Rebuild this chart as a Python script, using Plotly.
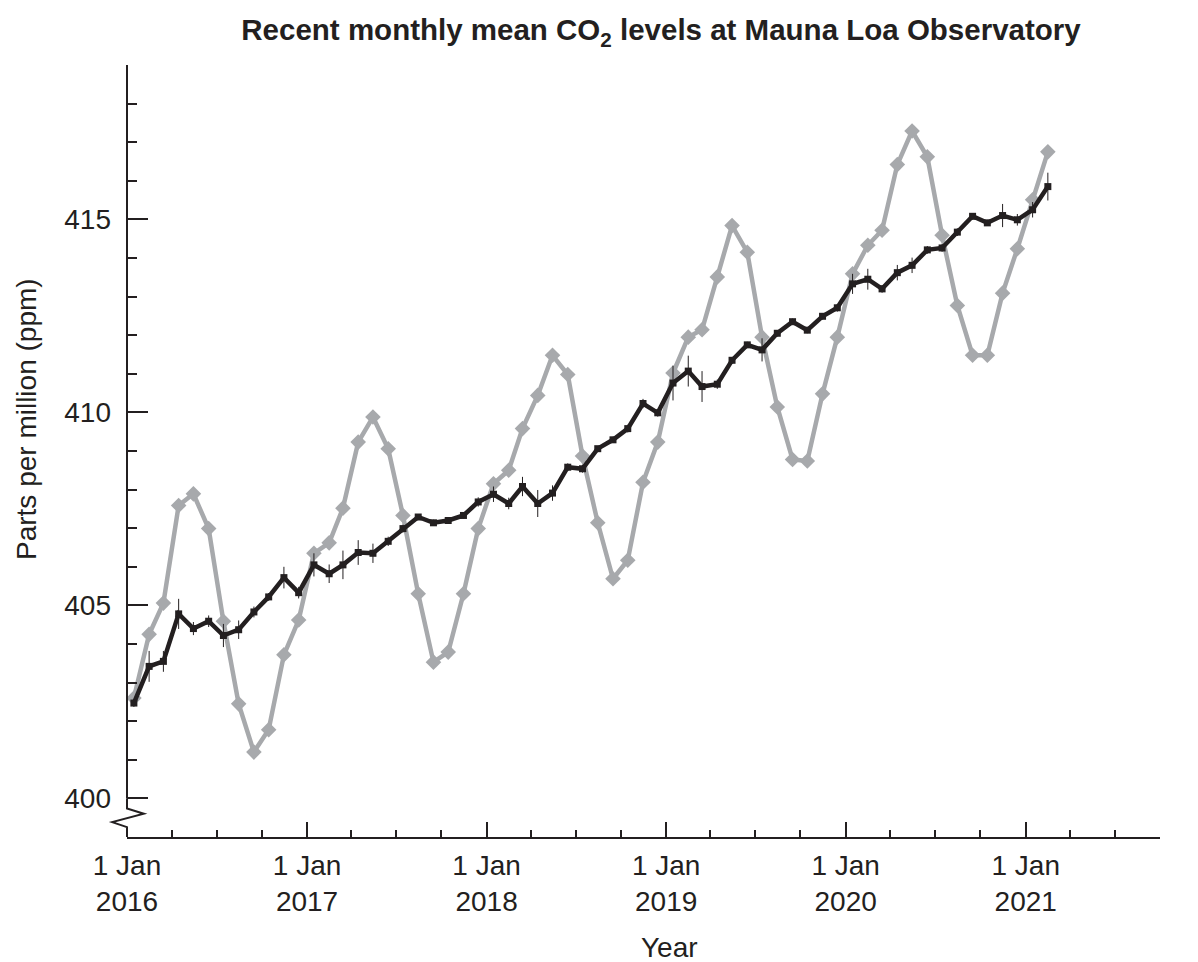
import plotly.graph_objects as go

# ---- data (monthly, Jan 2016 .. Feb 2021) ----
start_year = 2016
n_months = 62
months = [f"{start_year + m // 12}-{m % 12 + 1:02d}-15" for m in range(n_months)]

monthly_mean = [
    402.60, 404.25, 405.06, 407.59, 407.89, 406.99, 404.59, 402.45, 401.20, 401.78, 403.72, 404.62,
    406.35, 406.62, 407.52, 409.23, 409.88, 409.06, 407.33, 405.30, 403.53, 403.79, 405.30, 406.99,
    408.15, 408.50, 409.58, 410.44, 411.48, 410.98, 408.87, 407.14, 405.69, 406.17, 408.19, 409.23,
    411.02, 411.95, 412.14, 413.51, 414.84, 414.15, 411.95, 410.14, 408.78, 408.74, 410.48, 411.95,
    413.59, 414.33, 414.72, 416.42, 417.29, 416.62, 414.59, 412.77, 411.48, 411.48, 413.09, 414.24,
    415.51, 416.75,
]

trend = [
    402.47, 403.42, 403.55, 404.78, 404.40, 404.59, 404.22, 404.37, 404.83, 405.22, 405.72, 405.33,
    406.05, 405.82, 406.05, 406.37, 406.35, 406.66, 406.99, 407.29, 407.14, 407.20, 407.33, 407.68,
    407.88, 407.64, 408.08, 407.64, 407.91, 408.58, 408.54, 409.06, 409.29, 409.58, 410.23, 409.99,
    410.76, 411.07, 410.67, 410.73, 411.35, 411.75, 411.62, 412.05, 412.35, 412.13, 412.49, 412.71,
    413.33, 413.45, 413.20, 413.62, 413.81, 414.21, 414.26, 414.67, 415.08, 414.91, 415.10, 414.99,
    415.25, 415.85,
]

trend_err = [
    0.10, 0.40, 0.27, 0.39, 0.17, 0.15, 0.30, 0.24, 0.14, 0.10, 0.28, 0.15,
    0.30, 0.24, 0.37, 0.32, 0.25, 0.12, 0.10, 0.05, 0.08, 0.05, 0.08, 0.12,
    0.20, 0.15, 0.25, 0.35, 0.20, 0.10, 0.10, 0.05, 0.08, 0.10, 0.12, 0.10,
    0.45, 0.40, 0.40, 0.12, 0.08, 0.08, 0.30, 0.08, 0.08, 0.08, 0.08, 0.10,
    0.26, 0.27, 0.10, 0.20, 0.20, 0.10, 0.10, 0.10, 0.08, 0.08, 0.30, 0.15,
    0.20, 0.36,
]

title_text = "Recent monthly mean CO<sub>2</sub> levels at Mauna Loa Observatory"
x_title = "Year"
y_title = "Parts per million (ppm)"
x_range = ["2016-01-01", "2021-10-01"]
y_range = [399, 419]

INK = "#231f20"
GREY = "#a7a9ac"
FONT = "Liberation Sans, Arial, Helvetica, sans-serif"

fig = go.Figure()

fig.add_trace(go.Scatter(
    x=months, y=monthly_mean, mode="lines+markers",
    line=dict(color=GREY, width=4.5),
    marker=dict(symbol="diamond", size=12, color=GREY),
    showlegend=False,
))

fig.add_trace(go.Scatter(
    x=months, y=trend, mode="lines+markers",
    line=dict(color=INK, width=4.5),
    marker=dict(symbol="square", size=7, color=INK),
    error_y=dict(type="data", array=trend_err, color=INK, thickness=1, width=0),
    showlegend=False,
))

# page has an 8 px body margin; size the figure so it fits the window
OFF = 8
W, H = 1198 - OFF, 962 - OFF
L = 127 - OFF
T = 65 - OFF
R = W - (1160 - OFF)
B = H - (837 - OFF)

fig.update_layout(
    width=W, height=H,
    margin=dict(l=L, r=R, t=T, b=B),
    paper_bgcolor="white", plot_bgcolor="white",
    font=dict(family=FONT, size=28, color=INK),
    title=dict(text="<b>" + title_text + "</b>", xref="container",
               x=(661 - OFF) / W, xanchor="center",
               y=1 - (30 - OFF) / H, yanchor="middle",
               font=dict(family=FONT, size=29.5, color=INK)),
)

fig.update_xaxes(
    range=x_range, type="date",
    showgrid=False, zeroline=False,
    showline=True, linecolor=INK, linewidth=2,
    ticks="inside", ticklen=15, tickwidth=2, tickcolor=INK,
    tick0="2016-01-01", dtick="M12", tickformat="%-d %b<br>%Y",
    ticklabelstandoff=2,
    minor=dict(dtick="M3", tick0="2016-01-01", ticks="inside", ticklen=7,
               tickwidth=2, tickcolor=INK, showgrid=False),
    tickfont=dict(size=28, color=INK, family=FONT),
)

fig.update_yaxes(
    range=y_range,
    showgrid=False, zeroline=False, showline=False,
    ticks="inside", ticklen=21, tickwidth=2, tickcolor=INK,
    tick0=400, dtick=5,
    ticklabelstandoff=15,
    minor=dict(dtick=1, tick0=400, ticks="inside", ticklen=10,
               tickwidth=2, tickcolor=INK, showgrid=False),
    tickfont=dict(size=28, color=INK, family=FONT),
)

# y axis line with a broken segment between 399 and 400
fig.add_shape(type="line", xref="x domain", yref="y", x0=0, x1=0, y0=400, y1=419,
              line=dict(color=INK, width=2))
fig.add_shape(type="path", xref="x domain", yref="y",
              path="M 0,400 L 0,399.741 L 0.0163,399.604 L -0.0143,399.386 L 0,399.256 L 0,399",
              line=dict(color=INK, width=2))

plot_w = W - L - R
plot_h = H - T - B
bottom_screen = 837
left_screen = 127
fig.add_annotation(text=x_title, xref="paper", yref="paper",
                   x=(669 - left_screen) / plot_w, y=-(947 - bottom_screen) / plot_h,
                   xanchor="center", yanchor="middle", showarrow=False,
                   font=dict(size=28, color=INK, family=FONT))
fig.add_annotation(text=y_title, xref="paper", yref="paper",
                   x=(26 - left_screen) / plot_w, y=(bottom_screen - 419) / plot_h,
                   xanchor="center", yanchor="middle", textangle=-90, showarrow=False,
                   font=dict(size=28, color=INK, family=FONT))

fig.write_html("out.html")
